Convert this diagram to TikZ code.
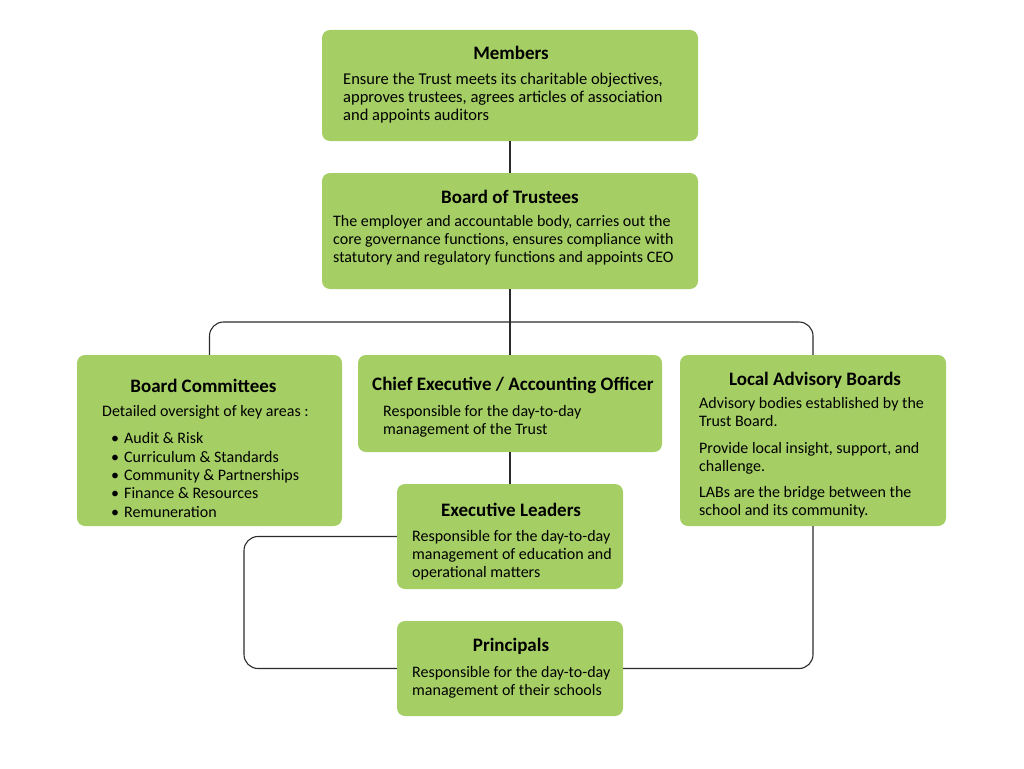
\documentclass[tikz,border=0pt]{standalone}
\usepackage{fontspec}
\setmainfont{Carlito}
\usepackage{tikz}
\usepackage{xcolor}
\usetikzlibrary{calc}
\definecolor{boxgreen}{HTML}{A5CF65}
\definecolor{linegrey}{HTML}{2B2B2B}

\begin{document}
\begin{tikzpicture}[x=1pt, y=-1pt,
        box/.style={fill=boxgreen, rounded corners=8pt, inner sep=0pt},
        title/.style={font=\fontsize{19}{22}\selectfont\bfseries, inner sep=0pt},
        body/.style={font=\fontsize{16}{18}\selectfont, align=left, anchor=north west, inner sep=0pt},
        link/.style={draw=linegrey, line width=1.1pt, rounded corners=14pt}]
        \useasboundingbox (0,0) rectangle (1024,768);

        % boxes
        \node [box, minimum width=376pt, minimum height=111pt] (members) at (510,85.5) {};
        \node [box, minimum width=376pt, minimum height=116pt] (trustees) at (510,231) {};
        \node [box, minimum width=265pt, minimum height=171pt] (committees) at (209.5,440.5) {};
        \node [box, minimum width=304pt, minimum height=97pt] (ceo) at (510,403.5) {};
        \node [box, minimum width=266pt, minimum height=171pt] (lab) at (813,440.5) {};
        \node [box, minimum width=226pt, minimum height=105pt] (exec) at (510,536.5) {};
        \node [box, minimum width=226pt, minimum height=95pt] (principals) at (510,668.5) {};

        \coordinate (split) at (510,322);
        \coordinate (loopl) at (244,600);

        % connectors
        \draw [link] (members) -- (trustees);
        \draw [link] (trustees) -- (ceo);
        \draw [link] (committees.north) |- (split) -| (lab.north);
        \draw [link] (ceo) -- (exec);
        \draw [link] (exec.west) -| (loopl) |- (principals.west);
        \draw [link] (lab.south) |- (principals.east);

        % texts
        \node [title] (memberst) at (511,53) {Members};
        \node [body, font=\fontsize{16.5}{18}\selectfont] (membersb) at (343,73.2) {Ensure the Trust meets its charitable objectives,\\
            approves trustees, agrees articles of association\\and appoints auditors};

        \node [title] (trusteest) at (510,197) {Board of Trustees};
        \node [body] (trusteesb) at (333,215.5) {The employer and accountable body, carries out the\\
            core governance functions, ensures compliance with\\
            statutory and regulatory functions and appoints CEO};

        \node [title] (committeest) at (203.5,386) {Board Committees};
        \node [body] (committeesb) at (102,405.5) {Detailed oversight of key areas :};
        \node [body, font=\fontsize{16}{18.3}\selectfont] (committeesl) at (111,432.5) {%
            \makebox[13pt][l]{•}Audit \& Risk\\
            \makebox[13pt][l]{•}Curriculum \& Standards\\
            \makebox[13pt][l]{•}Community \& Partnerships\\
            \makebox[13pt][l]{•}Finance \& Resources\\
            \makebox[13pt][l]{•}Remuneration};

        \node [title] (ceot) at (513,385) {Chief Executive / Accounting Officer};
        \node [body] (ceob) at (383,405.5) {Responsible for the day-to-day\\management of the Trust};

        \node [title] (labt) at (815,380) {Local Advisory Boards};
        \node [body] (labb) at (699,397.5) {Advisory bodies established by the\\Trust Board.\\[8.5pt]
            Provide local insight, support, and\\challenge.\\[8.5pt]
            LABs are the bridge between the\\school and its community.};

        \node [title] (exect) at (511,510) {Executive Leaders};
        \node [body] (execb) at (412,530.5) {Responsible for the day-to-day\\
            management of education and\\operational matters};

        \node [title] (principalst) at (511,646) {Principals};
        \node [body] (principalsb) at (412,666.5) {Responsible for the day-to-day\\management of their schools};
    \end{tikzpicture}
\end{document}
